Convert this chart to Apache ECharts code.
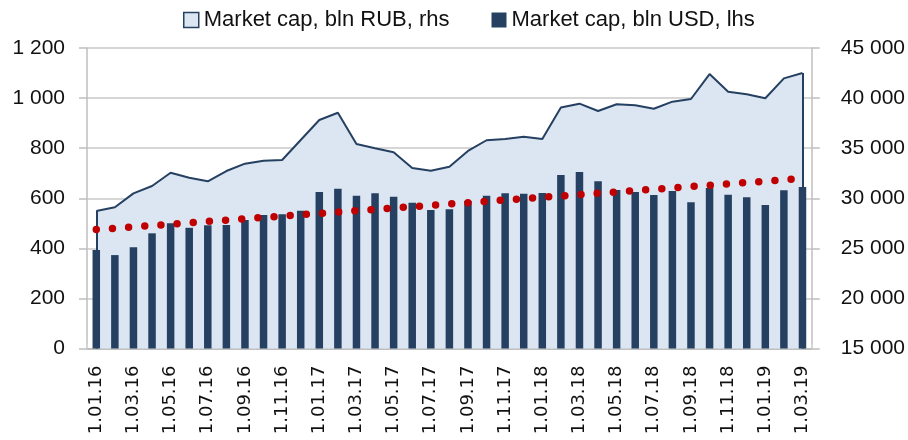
<!DOCTYPE html>
<html>
<head>
<meta charset="utf-8">
<script src="https://cdn.jsdelivr.net/npm/echarts@6/dist/echarts.min.js"></script>
<style>
  html, body { margin: 0; padding: 0; background: #ffffff; }
  #chart { width: 908px; height: 440px; }
</style>
</head>
<body>
<div id="chart"></div>
<script>
// Monthly observations, 1 Jan 2016 – 1 Mar 2019
const months = [
  '1.01.16','1.02.16','1.03.16','1.04.16','1.05.16','1.06.16','1.07.16','1.08.16','1.09.16','1.10.16','1.11.16','1.12.16',
  '1.01.17','1.02.17','1.03.17','1.04.17','1.05.17','1.06.17','1.07.17','1.08.17','1.09.17','1.10.17','1.11.17','1.12.17',
  '1.01.18','1.02.18','1.03.18','1.04.18','1.05.18','1.06.18','1.07.18','1.08.18','1.09.18','1.10.18','1.11.18','1.12.18',
  '1.01.19','1.02.19','1.03.19'
];

// Market capitalisation, bln USD (left axis)
const capUsd = [
  393, 373, 404, 460, 500, 482, 492, 493, 513, 533, 536, 550,
  625, 638, 610, 620, 606, 582, 553, 556, 589, 610, 620, 618,
  621, 693, 705, 668, 633, 625, 613, 629, 584, 641, 614, 604,
  573, 632, 645
];

// Market capitalisation, bln RUB (right axis)
const capRub = [
  28730, 29100, 30490, 31220, 32550, 32050, 31690, 32720, 33450, 33750, 33820, 35820,
  37810, 38540, 35420, 34990, 34590, 33020, 32750, 33150, 34720, 35790, 35910, 36140,
  35910, 39060, 39440, 38710, 39380, 39280, 38940, 39640, 39910, 42400, 40640, 40380,
  39980, 41970, 42500
];

// Linear trend of the USD series: value at the first and last month
const trendUsd = [[months[0], 475], [months[months.length - 1], 679]];

const usdTicks = { min: 0, max: 1200, interval: 200 };
const rubTicks = { min: 15000, max: 45000, interval: 5000 };

const legendNames = ['Market cap, bln RUB, rhs', 'Market cap, bln USD, lhs'];

const navy = '#254061';
const areaFill = '#DCE6F2';
const gridGrey = '#C8C8C8';
const axisGrey = '#BFBFBF';
const textColor = '#111111';
const baseFont = 'Liberation Sans';

function spaced(v) {
  return String(v).replace(/\B(?=(\d{3})+(?!\d))/g, ' ');
}

const chart = echarts.init(document.getElementById('chart'), null, { renderer: 'canvas' });

const last = months.length - 1;

chart.setOption({
  animation: false,
  backgroundColor: '#ffffff',
  textStyle: { fontFamily: baseFont, color: textColor },
  legend: {
    left: 178,
    top: 4,
    itemWidth: 15,
    itemHeight: 15,
    itemGap: 42,
    textStyle: { fontFamily: baseFont, fontSize: 22, color: textColor },
    data: [
      { name: legendNames[0], icon: 'rect',
        itemStyle: { color: areaFill, borderColor: navy, borderWidth: 1.5 } },
      { name: legendNames[1], icon: 'rect',
        itemStyle: { color: navy, borderWidth: 0 } }
    ]
  },
  grid: { left: 87, right: 95, top: 48, bottom: 91.5, containLabel: false },
  xAxis: {
    type: 'category',
    data: months,
    boundaryGap: true,
    axisLine: { show: true, lineStyle: { color: axisGrey, width: 2 } },
    axisTick: { show: true, inside: true, length: 5, interval: 0, alignWithLabel: false,
                lineStyle: { color: '#D9D9D9', width: 1.5 } },
    axisLabel: {
      interval: 1,
      rotate: 90,
      margin: 17,
      fontFamily: 'DejaVu Sans',
      fontSize: 18,
      color: textColor
    },
    splitLine: { show: false }
  },
  yAxis: [
    {
      type: 'value',
      position: 'left',
      min: usdTicks.min, max: usdTicks.max, interval: usdTicks.interval,
      axisLine: { show: true, lineStyle: { color: axisGrey, width: 1.5 } },
      axisTick: { show: true, inside: false, length: 8, lineStyle: { color: axisGrey, width: 1.5 } },
      axisLabel: { margin: 22, fontSize: 21, fontFamily: baseFont, color: textColor,
                   formatter: v => spaced(v) },
      splitLine: { show: true, lineStyle: { color: gridGrey, width: 1.5 } }
    },
    {
      type: 'value',
      position: 'right',
      min: rubTicks.min, max: rubTicks.max, interval: rubTicks.interval,
      axisLine: { show: true, lineStyle: { color: axisGrey, width: 1.5 } },
      axisTick: { show: true, inside: false, length: 8, lineStyle: { color: axisGrey, width: 1.5 } },
      axisLabel: { margin: 29, fontSize: 21, fontFamily: baseFont, color: textColor,
                   formatter: v => spaced(v) },
      splitLine: { show: false }
    }
  ],
  series: [
    {
      name: legendNames[0],
      type: 'line',
      yAxisIndex: 1,
      data: capRub,
      symbol: 'none',
      z: 1,
      lineStyle: { color: navy, width: 2 },
      itemStyle: { color: areaFill },
      areaStyle: { color: areaFill, opacity: 1 },
      markLine: {
        silent: true,
        symbol: 'none',
        label: { show: false },
        lineStyle: { color: navy, width: 2, type: 'solid' },
        data: [
          [{ coord: [months[0], capRub[0]] }, { coord: [months[0], rubTicks.min] }],
          [{ coord: [months[last], capRub[last]] }, { coord: [months[last], rubTicks.min] }]
        ]
      }
    },
    {
      name: legendNames[1],
      type: 'bar',
      yAxisIndex: 0,
      data: capUsd,
      barWidth: 7.5,
      z: 3,
      itemStyle: { color: navy }
    },
    {
      name: 'trend',
      type: 'line',
      yAxisIndex: 0,
      data: trendUsd,
      symbol: 'none',
      z: 5,
      lineStyle: { color: '#C00000', width: 7.5, type: [0, 16.2], cap: 'round' }
    }
  ]
});
</script>
</body>
</html>
